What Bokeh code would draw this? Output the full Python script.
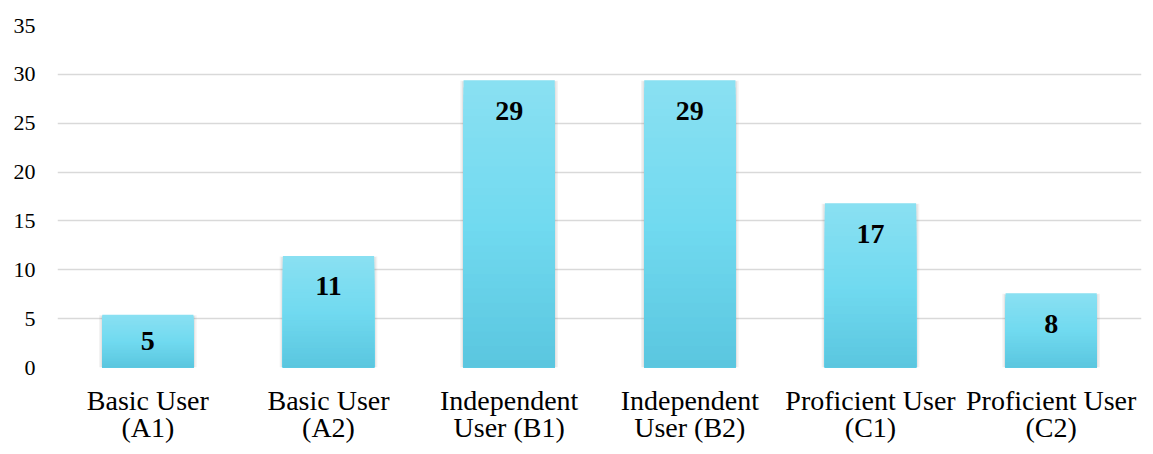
import numpy as np
from bokeh.plotting import figure
from bokeh.models import ColumnDataSource, FixedTicker, Range1d, FactorRange
from bokeh.core.properties import value
from bokeh.embed import file_html
from bokeh.resources import INLINE

categories = ["Basic User\n(A1)", "Basic User\n(A2)", "Independent\nUser (B1)",
              "Independent\nUser (B2)", "Proficient User\n(C1)", "Proficient User\n(C2)"]
values = [5.4, 11.4, 29.4, 29.4, 16.8, 7.6]
labels = ["5", "11", "29", "29", "17", "8"]
y_ticks = [0, 5, 10, 15, 20, 25, 30, 35]

vals = np.array(values)

p = figure(x_range=FactorRange(factors=categories, range_padding=0),
           y_range=Range1d(0, 35), width=1145, height=446,
           output_backend="svg", toolbar_location=None,
           min_border_left=57, min_border_right=4, min_border_top=25, min_border_bottom=70)
p.outline_line_color = None
p.background_fill_color = "white"
p.border_fill_color = "white"

BAR_W = 0.505

# soft shadow
p.vbar(x=categories, top=vals - 0.05, bottom=-0.25, width=BAR_W + 0.035,
       fill_color="#7f7f7f", fill_alpha=0.10, line_color=None)
p.vbar(x=categories, top=vals - 0.1, bottom=-0.15, width=BAR_W + 0.018,
       fill_color="#7f7f7f", fill_alpha=0.12, line_color=None)

# gradient fill: stacked bars, tallest (lightest) first
stops_f = [0.0, 0.5, 1.0]
stops_c = [(0x5A, 0xC6, 0xDF), (0x71, 0xDA, 0xF0), (0x8A, 0xE0, 0xF2)]
N = 40
for k in range(N, 0, -1):
    f = k / N
    rgb = [int(round(np.interp(f - 0.5 / N, stops_f, [c[i] for c in stops_c]))) for i in range(3)]
    col = "#%02x%02x%02x" % tuple(rgb)
    p.vbar(x=categories, top=vals * f, bottom=0, width=BAR_W,
           fill_color=col, line_color=None)

label_y = np.maximum(vals - 3.1, vals / 2)
src = ColumnDataSource(dict(x=categories, y=label_y, t=labels))
p.text(x="x", y="y", text="t", source=src, text_align="center", text_baseline="middle",
       text_font=value("Liberation Serif"), text_font_style="bold",
       text_font_size="28px", text_color="black")

p.xgrid.grid_line_color = None
p.ygrid.grid_line_color = "#D9D9D9"
p.ygrid.grid_line_width = 1.5
p.yaxis.ticker = FixedTicker(ticks=y_ticks)
p.ygrid.level = "underlay"

for ax in (p.xaxis, p.yaxis):
    ax.axis_line_color = None
    ax.major_tick_line_color = None
    ax.minor_tick_line_color = None
    ax.major_tick_out = 0
    ax.major_tick_in = 0
    ax.major_label_text_font = "Liberation Serif"
    ax.major_label_text_color = "black"

p.yaxis.major_label_text_font_size = "22px"
p.yaxis.major_label_standoff = 22
p.xaxis.major_label_text_font_size = "28px"
p.xaxis.major_label_text_line_height = 0.9
p.xaxis.major_label_standoff = 17

open("out.html", "w").write(file_html(p, INLINE))
